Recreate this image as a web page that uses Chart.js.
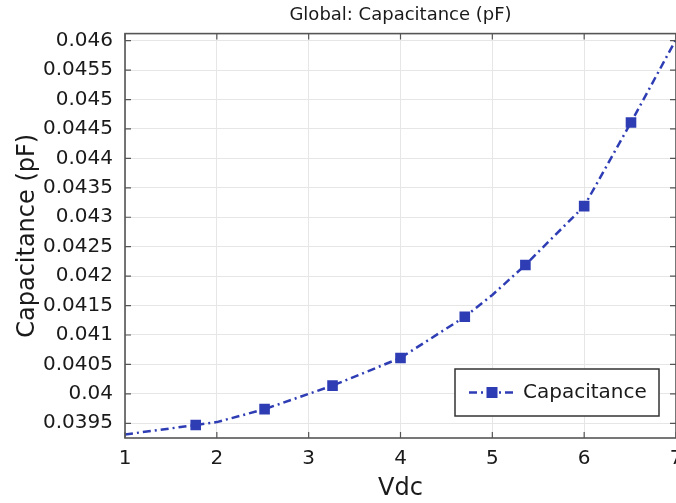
<!DOCTYPE html>
<html>
<head>
<meta charset="utf-8">
<script src="https://cdn.jsdelivr.net/npm/chart.js@4"></script>
<style>
  body { margin: 0; background: #FFFFFF; }
  canvas { display: block; }
</style>
</head>
<body>
<canvas id="capChart" width="676" height="503"></canvas>
<script>
// --- DATA ---
const vdc = [1, 1.77, 2, 2.52, 3, 3.26, 4, 4.7, 5, 5.36, 6, 6.51, 7];
const capacitance = [0.03931, 0.03947, 0.03952, 0.03974, 0.04000, 0.04014, 0.04061, 0.04131, 0.04168, 0.04219, 0.04319, 0.04461, 0.04602];
const markerVdc = [1.77, 2.52, 3.26, 4.0, 4.7, 5.36, 6.0, 6.51];
const markerCap = [0.03947, 0.03974, 0.04014, 0.04061, 0.04131, 0.04219, 0.04319, 0.04461];
const xTicks = [1, 2, 3, 4, 5, 6, 7];
const yTicks = [0.0395, 0.04, 0.0405, 0.041, 0.0415, 0.042, 0.0425, 0.043, 0.0435, 0.044, 0.0445, 0.045, 0.0455, 0.046];
const seriesName = "Capacitance";

document.addEventListener("DOMContentLoaded", () => {
    Chart.defaults.font.family = "'DejaVu Sans', sans-serif";
    Chart.defaults.color = "#1A1A1A";

    const BLUE = "#2E3DB4";
    const DASH = [8, 4, 2, 4];

    // inward tick marks + frame, like the original plot
    const framePlugin = {
        id: "frame",
        afterDatasetsDraw(chart) {
            const { ctx, chartArea: a, scales } = chart;
            ctx.save();
            ctx.strokeStyle = "#555555";
            ctx.lineWidth = 1.2;
            ctx.beginPath();
            scales.x.ticks.forEach(t => {
                const px = scales.x.getPixelForValue(t.value);
                ctx.moveTo(px, a.bottom); ctx.lineTo(px, a.bottom - 6);
                ctx.moveTo(px, a.top); ctx.lineTo(px, a.top + 6);
            });
            scales.y.ticks.forEach(t => {
                const py = scales.y.getPixelForValue(t.value);
                ctx.moveTo(a.left, py); ctx.lineTo(a.left + 6, py);
                ctx.moveTo(a.right, py); ctx.lineTo(a.right - 6, py);
            });
            ctx.stroke();
            ctx.lineWidth = 1.6;
            ctx.strokeRect(a.left, a.top, a.right - a.left, a.bottom - a.top);
            ctx.restore();
        }
    };

    // legend box inside the plot (line + square marker sample)
    const legendPlugin = {
        id: "boxLegend",
        afterDraw(chart) {
            const { ctx, chartArea: a } = chart;
            const w = 204, h = 47;
            const x = a.right - 17 - w, y = a.bottom - 22 - h;
            const cy = y + h / 2;
            ctx.save();
            ctx.fillStyle = "#FFFFFF";
            ctx.fillRect(x, y, w, h);
            ctx.strokeStyle = "#333333";
            ctx.lineWidth = 1.5;
            ctx.strokeRect(x, y, w, h);

            ctx.strokeStyle = BLUE;
            ctx.lineWidth = 2.5;
            ctx.setLineDash(DASH);
            ctx.beginPath();
            ctx.moveTo(x + 14, cy); ctx.lineTo(x + 60, cy);
            ctx.stroke();
            ctx.setLineDash([]);
            ctx.fillStyle = BLUE;
            ctx.fillRect(x + 37 - 5.5, cy - 5.5, 11, 11);

            ctx.fillStyle = "#1A1A1A";
            ctx.font = "20px 'DejaVu Sans'";
            ctx.textBaseline = "middle";
            ctx.fillText(seriesName, x + 68, cy);
            ctx.restore();
        }
    };

    new Chart(document.getElementById("capChart"), {
        type: "line",
        data: {
            datasets: [
                {
                    label: seriesName,
                    data: vdc.map((v, i) => ({ x: v, y: capacitance[i] })),
                    borderColor: BLUE,
                    borderWidth: 2.5,
                    borderDash: DASH,
                    pointRadius: 0,
                    tension: 0,
                    fill: false
                },
                {
                    label: seriesName + " markers",
                    data: markerVdc.map((v, i) => ({ x: v, y: markerCap[i] })),
                    showLine: false,
                    pointStyle: "rect",
                    pointRadius: 7.5,
                    pointBackgroundColor: BLUE,
                    pointBorderColor: BLUE,
                    pointBorderWidth: 0
                }
            ]
        },
        options: {
            responsive: false,
            animation: false,
            layout: { padding: 0, autoPadding: false },
            plugins: {
                legend: { display: false },
                tooltip: { enabled: false },
                title: {
                    display: true,
                    text: "Global: Capacitance (pF)",
                    fullSize: false,
                    color: "#1A1A1A",
                    font: { size: 18, weight: "normal" },
                    padding: { top: 5, bottom: 7 }
                }
            },
            scales: {
                x: {
                    type: "linear",
                    min: 1,
                    max: 7,
                    afterBuildTicks: s => { s.ticks = xTicks.map(v => ({ value: v })); },
                    afterFit: s => { s.height = 65; s.paddingLeft = 0; s.paddingRight = 0; },
                    grid: { color: "#E6E6E6", drawTicks: false },
                    border: { display: false },
                    ticks: { padding: 9, font: { size: 20 }, maxRotation: 0 },
                    title: { display: true, text: "Vdc", font: { size: 24 }, padding: { top: 0, bottom: 0 } }
                },
                y: {
                    min: 0.03925,
                    max: 0.04612,
                    afterBuildTicks: s => { s.ticks = yTicks.map(v => ({ value: v })); },
                    afterFit: s => { s.width = 125; s.paddingTop = 0; s.paddingBottom = 0; },
                    grid: { color: "#E6E6E6", drawTicks: false },
                    border: { display: false },
                    ticks: {
                        padding: 12,
                        font: { size: 20 },
                        callback: v => String(+v.toFixed(4))
                    },
                    title: { display: true, text: "Capacitance (pF)", font: { size: 24 }, padding: { top: 13, bottom: 0 } }
                }
            }
        },
        plugins: [framePlugin, legendPlugin]
    });
});
</script>
</body>
</html>
